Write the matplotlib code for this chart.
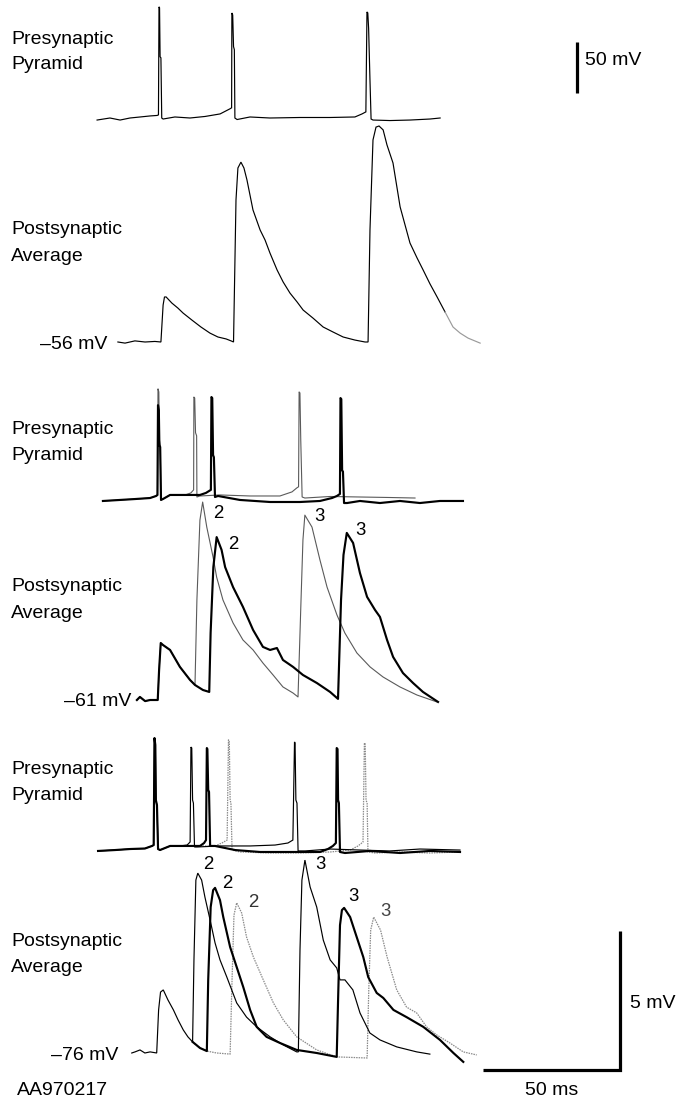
import numpy as np
import matplotlib
matplotlib.use("Agg")
import matplotlib.pyplot as plt

plt.rcParams['font.family'] = ['Liberation Sans', 'DejaVu Sans']

# ------------------------------------------------------------------
# DATA  (time in ms from first presynaptic spike, voltage in mV)
# presynaptic traces: mV relative to resting level
# ------------------------------------------------------------------
# ---- Panel 1 ----
p1_pre_t = [-22.6, -17.9, -14.2, -10.6, -6.9, -3.3, -0.7, -0.2, 0.0, 0.2, 0.4, 0.7, 1.0, 1.5,
            5.8, 11.3, 16.8, 22.3, 25.9, 26.5, 26.6, 26.9, 27.2, 27.5, 27.7, 28.5, 33.2, 40.5,
            51.5, 62.4, 71.5, 74.1, 75.5, 75.9, 76.2, 76.5, 77.0, 77.4, 78.1, 84.3, 91.6, 98.9, 102.6]
p1_pre_v = [-2, 0, -2, 0, 1, 2, 2.5, 3, 109, 108, 60, 59, 0, -1,
            1, 0, 1.5, 4, 9, 10, 103, 101, 70, 67, 0, -1.5, 1, 0,
            0.5, 0.5, 1, 4, 6, 104, 103, 88, 37, -1, -2, -2.5, -2, -1, 0]

p1_post_t = [-15.0, -12.4, -8.8, -5.1, -1.5, 0.7, 1.5, 2.0, 2.6, 4.7, 6.9, 8.8, 12.0, 15.3, 18.6,
             21.5, 24.5, 26.3, 27.2, 28.1, 28.8, 29.9, 31.0, 32.1, 34.3, 36.9, 38.7, 40.5, 43.1,
             45.3, 47.8, 50.4, 52.6, 56.2, 59.9, 63.5, 67.2, 71.5, 75.2, 76.3, 77.0, 78.1, 79.2,
             80.3, 81.8, 83.2, 85.4, 88.0, 89.8, 91.6, 94.2, 96.4, 98.9, 101.5, 104.4, 107.3,
             109.9, 112.8, 117.2]
p1_post_v = [-56.00, -56.04, -55.96, -56.00, -55.98, -56.00, -54.67, -54.38, -54.38, -54.60, -54.78,
             -54.96, -55.21, -55.46, -55.68, -55.82, -55.89, -55.96, -56.00, -50.89, -49.74, -49.53,
             -49.74, -50.17, -51.25, -51.97, -52.33, -52.80, -53.41, -53.84, -54.24, -54.56, -54.85,
             -55.14, -55.46, -55.64, -55.82, -55.93, -56.00, -56.00, -51.97, -48.73, -48.27, -48.23,
             -48.37, -48.91, -49.56, -51.14, -51.79, -52.44, -52.98, -53.41, -53.91, -54.38, -54.92,
             -55.46, -55.68, -55.86, -56.04]

# ---- Panel 2 ----
p2_pre_thin_t = [-20.1, -13.9, -8.4, -2.9, -0.7, -0.2, 0.0, 0.3, 0.5, 0.8, 1.1, 1.8, 4.4, 9.9, 12.0,
                 13.0, 13.1, 13.4, 13.7, 14.1, 14.2, 15.3, 22.6, 33.6, 44.5, 48.9, 50.7, 51.3, 51.5,
                 51.8, 52.1, 52.6, 53.6, 62.8, 73.7, 84.7, 93.8]
p2_pre_thin_v = [-3.9, -2.9, -2.0, -1.0, 1.0, 2, 106, 103, 56, 51, -2.9, -2, 2, 2, 4,
                 7, 98, 97, 63, 60, 0, 1, 2, 1, 1, 5, 9, 10, 103,
                 102, 56, 0, -1, 0.5, 0, -0.5, -1]
p2_pre_thick_t = [-20.1, -13.9, -8.4, -2.9, -0.7, -0.2, 0.0, 0.3, 0.5, 0.8, 1.1, 1.8, 4.4, 9.9, 15.3,
                  17.5, 19.3, 19.5, 19.8, 20.1, 20.4, 20.8, 21.9, 29.9, 40.9, 51.8, 59.1, 63.5, 65.3,
                  66.4, 66.6, 66.9, 67.2, 67.5, 67.9, 69.0, 73.7, 81.0, 88.3, 95.6, 102.9, 111.3]
p2_pre_thick_v = [-3.9, -2.9, -2.0, -1.0, 1.0, 2, 90, 85, 51, 49, -2.9, -2, 2, 2, 2,
                  4, 7, 98, 97, 41, 39, 0, 1, -2.9, -4.9, -4.9, -3.9, -1, 1,
                  3, 97, 96, 26, 25, -5.9, -5.9, -3.9, -5.9, -3.9, -5.9, -3.9, -3.9]

p2_post_thin_t = [-7.7, -6.6, -4.7, -2.9, -0.1, 0.4, 1.0, 1.8, 4.4, 8.0, 11.7, 13.5, 14.2, 15.3, 16.3,
                  17.8, 20.1, 21.4, 23.7, 27.4, 31.0, 34.7, 38.3, 42.0, 45.6, 49.3, 51.1, 52.2, 52.9,
                  53.6, 56.2, 59.1, 61.7, 65.3, 68.2, 72.6, 77.4, 82.1, 88.3, 94.5, 101.8]
p2_post_thin_v = [-61.00, -60.89, -61.04, -61.00, -61.00, -59.92, -58.95, -59.02, -59.20, -59.81,
                  -60.28, -60.46, -57.40, -54.53, -53.88, -54.78, -55.86, -56.58, -57.40, -58.23,
                  -58.84, -59.20, -59.67, -60.10, -60.53, -60.75, -60.89, -57.40, -55.24, -54.35,
                  -54.78, -55.96, -56.94, -57.94, -58.59, -59.31, -59.81, -60.17, -60.53, -60.82, -61.07]
p2_post_thick_t = [-7.7, -6.6, -4.7, -2.9, -0.1, 0.4, 1.0, 1.8, 4.4, 8.0, 11.7, 13.5, 16.4, 18.7, 19.2,
                   20.2, 21.4, 23.2, 24.5, 27.4, 31.0, 34.7, 38.3, 40.9, 43.4, 45.6, 49.3, 52.9, 58.0,
                   62.8, 65.7, 66.8, 67.7, 68.9, 71.2, 73.7, 76.3, 79.2, 81.0, 83.6, 85.8, 89.4, 93.1,
                   96.7, 102.2]
p2_post_thick_v = [-61.00, -60.89, -61.04, -61.00, -61.00, -59.92, -58.95, -59.02, -59.20, -59.81,
                   -60.28, -60.46, -60.64, -60.71, -58.59, -56.22, -55.14, -55.60, -56.22, -56.94,
                   -57.65, -58.48, -59.09, -59.20, -59.13, -59.56, -59.81, -60.10, -60.39, -60.71,
                   -60.96, -57.40, -55.78, -54.99, -55.35, -56.43, -57.29, -57.76, -58.01, -58.84,
                   -59.45, -60.03, -60.39, -60.71, -61.07]

# ---- Panel 3 ----
p3_pre_shared_t = [-20.6, -14.4, -8.9, -3.5, -0.9, -0.3, 0.0, 0.3, 0.5, 0.9, 1.3, 2.0, 5.7, 9.3]
p3_pre_shared_v = [-2.9, -2.0, -1.0, -0.5, 2.0, 2.9, 107.8, 101, 47, 42, -1.0, -2.0, 2, 2]
p3_pre_thin_t = [11.9, 13.0, 13.3, 13.6, 13.9, 14.2, 14.6, 15.5, 23.9, 34.9, 44.0, 48.7, 50.5, 51.1,
                 51.3, 51.6, 52.0, 52.4, 54.9, 64.1, 75.0, 85.8, 96.9, 111.5]
p3_pre_thin_v = [2.9, 5.9, 99, 98, 47, 44, 1, 1, 2, 2, 2.9, 4.9, 7.8, 104,
                 103, 47, 44, -2.9, -2.9, -1, -2, -2.9, -1, -2]
p3_pre_thick_t = [16.6, 18.1, 18.8, 19.1, 19.3, 19.6, 19.9, 20.3, 22.1, 29.4, 38.5, 49.5, 60.4, 63.3,
                  65.1, 66.2, 66.5, 66.8, 67.0, 67.3, 67.7, 69.5, 78.6, 89.6, 100.5, 111.5]
p3_pre_thick_v = [2, 4.9, 7.8, 98, 97, 57, 55, 2, 2, -2, -3.9, -3.9, -3.9, -1,
                  2, 4.9, 98, 97, 47, 44, -3.9, -4.9, -2.9, -4.9, -2.9, -3.9]
p3_pre_dot_t = [16.6, 22.1, 24.6, 26.5, 27.0, 27.3, 27.6, 27.9, 28.3, 31.2, 42.2, 53.1, 64.1, 71.4,
                74.3, 76.1, 76.6, 76.9, 77.2, 77.6, 77.9, 80.5, 89.6, 100.5, 111.5]
p3_pre_dot_v = [2, 2, 4.9, 7.8, 106, 104, 47, 44, -2, -3.9, -4.9, -4.9, -3.9, -2,
                2, 5.9, 103, 102, 47, 44, -3.9, -4.9, -3.9, -4.9, -3.9]

p3_post_shared_t = [-8.3, -7.1, -5.3, -3.5, -1.6, 0.8, 1.5, 2.2, 3.2, 4.9, 6.9, 8.6, 10.5, 12.2, 13.9]
p3_post_shared_v = [-76.00, -75.96, -75.89, -76.00, -75.96, -76.00, -74.45, -73.81, -73.73, -74.09,
                    -74.45, -74.81, -75.17, -75.42, -75.60]
p3_post_thin_t = [14.4, 15.1, 15.8, 17.2, 18.4, 20.3, 22.1, 23.9, 26.4, 30.0, 33.6, 37.3, 42.2, 47.0,
                  51.9, 52.5, 53.1, 53.8, 54.9, 56.8, 59.2, 61.6, 64.1, 66.5, 67.7, 69.5, 72.4, 75.0,
                  76.8, 78.6, 82.3, 88.4, 95.7, 100.5]
p3_post_thin_v = [-72.65, -69.78, -69.53, -69.78, -70.39, -71.22, -72.04, -72.65, -73.27, -74.20,
                  -74.71, -75.06, -75.42, -75.71, -75.96, -75.96, -72.29, -69.78, -69.06, -70.03,
                  -70.75, -71.94, -72.65, -72.94, -73.37, -73.37, -73.73, -74.56, -74.92, -75.28,
                  -75.53, -75.78, -75.96, -76.04]
p3_post_thick_t = [16.6, 19.1, 19.6, 20.5, 21.4, 22.1, 23.9, 25.1, 27.6, 30.0, 32.4, 34.9, 37.3, 40.9,
                   45.8, 51.9, 59.2, 66.5, 67.0, 67.7, 68.4, 69.2, 71.4, 73.8, 76.2, 78.0, 81.1, 83.5,
                   87.2, 92.0, 98.1, 104.2, 109.1, 112.7]
p3_post_thick_v = [-75.82, -75.93, -73.37, -70.75, -70.14, -70.06, -70.50, -71.11, -72.19, -72.91,
                   -73.63, -74.45, -75.06, -75.42, -75.64, -75.89, -76.00, -76.14, -74.09, -71.40,
                   -70.86, -70.78, -71.11, -71.83, -72.55, -73.27, -73.84, -74.02, -74.45, -74.71,
                   -75.06, -75.53, -76.00, -76.32]
p3_post_dot_t = [16.6, 19.1, 22.7, 27.6, 28.3, 29.0, 30.0, 31.8, 33.6, 36.1, 39.7, 43.4, 47.0, 51.9,
                 59.2, 66.5, 77.6, 78.2, 78.9, 80.0, 82.5, 84.9, 88.4, 92.0, 95.7, 99.3, 103.0, 107.8,
                 112.7, 117.6]
p3_post_dot_v = [-75.82, -75.93, -76.00, -76.04, -73.37, -71.04, -70.60, -70.96, -71.83, -72.55,
                 -73.37, -74.20, -74.81, -75.42, -75.89, -76.14, -76.18, -73.73, -71.58, -71.11,
                 -71.58, -72.55, -73.73, -74.35, -74.56, -75.06, -75.35, -75.64, -75.96, -76.07]

resting_labels = ["\u201356 mV", "\u201361 mV", "\u201376 mV"]
resting_mv = [-56, -61, -76]
peak_labels_p2 = ["2", "2", "3", "3"]
peak_labels_p3 = ["2", "2", "2", "3", "3", "3"]
scale_ms = 50
scale_post_mv = 5
scale_pre_mv = 50

# ------------------------------------------------------------------
# LAYOUT (pixels)
# ------------------------------------------------------------------
W, H = 677, 1097
PX_PER_MS = 2.74
PX_PER_MV_POST = 27.8
PX_PER_MV_PRE = 1.02
panel_x0 = [159, 158, 154.5]        # pixel x of t = 0
panel_pre_y = [118, 497, 848]       # pixel y of presynaptic rest
panel_post_y = [342, 700, 1053]     # pixel y of postsynaptic rest

fig = plt.figure(figsize=(W / 100, H / 100), dpi=100)
fig.patch.set_facecolor('white')


def make_axes(x0, ybase, vbase, ppmv):
    ax = fig.add_axes([0, 0, 1, 1])
    ax.set_xlim((0 - x0) / PX_PER_MS, (W - x0) / PX_PER_MS)
    ax.set_ylim(vbase + (ybase - H) / ppmv, vbase + ybase / ppmv)
    ax.axis('off')
    ax.patch.set_alpha(0)
    return ax


pre_axes, post_axes = [], []
for i in range(3):
    pre_axes.append(make_axes(panel_x0[i], panel_pre_y[i], 0.0, PX_PER_MV_PRE))
    post_axes.append(make_axes(panel_x0[i], panel_post_y[i], resting_mv[i], PX_PER_MV_POST))

THIN = dict(color='black', lw=0.85, solid_joinstyle='miter')
GRAY = dict(color='#5a5a5a', lw=0.8)
THICK = dict(color='black', lw=1.55)
DOT = dict(color='#8a8a8a', lw=0.9, linestyle=(0, (1.2, 0.8)))

# Panel 1
pre_axes[0].plot(p1_pre_t, p1_pre_v, **THIN)
t1 = np.array(p1_post_t)
v1 = np.array(p1_post_v)
fade = 104.0
k = np.searchsorted(t1, fade)
post_axes[0].plot(t1[:k + 1], v1[:k + 1], **THIN)
post_axes[0].plot(t1[k:], v1[k:], color='#9a9a9a', lw=0.85)

# Panel 2
pre_axes[1].plot(p2_pre_thin_t, p2_pre_thin_v, **GRAY)
pre_axes[1].plot(p2_pre_thick_t, p2_pre_thick_v, **THICK)
post_axes[1].plot(p2_post_thin_t, p2_post_thin_v, **GRAY)
post_axes[1].plot(p2_post_thick_t, p2_post_thick_v, **THICK)

# Panel 3
pre_axes[2].plot([p3_pre_shared_t[-1]] + p3_pre_dot_t, [p3_pre_shared_v[-1]] + p3_pre_dot_v, **DOT)
pre_axes[2].plot(p3_pre_shared_t + p3_pre_thin_t, p3_pre_shared_v + p3_pre_thin_v, **THIN)
pre_axes[2].plot(p3_pre_shared_t + p3_pre_thick_t, p3_pre_shared_v + p3_pre_thick_v, **THICK)
post_axes[2].plot([p3_post_shared_t[-1]] + p3_post_dot_t, [p3_post_shared_v[-1]] + p3_post_dot_v, **DOT)
post_axes[2].plot(p3_post_shared_t + p3_post_thin_t, p3_post_shared_v + p3_post_thin_v, **THIN)
post_axes[2].plot([p3_post_shared_t[-1]] + p3_post_thick_t, [p3_post_shared_v[-1]] + p3_post_thick_v, **THICK)

# Scale bars
BAR = dict(color='black', lw=2.3, solid_capstyle='butt')
bar_pre_t = (577 - panel_x0[0]) / PX_PER_MS
bar_pre_v0 = (panel_pre_y[0] - 93) / PX_PER_MV_PRE
pre_axes[0].plot([bar_pre_t, bar_pre_t], [bar_pre_v0, bar_pre_v0 + scale_pre_mv], **BAR)

bar_t1 = (620 - panel_x0[2]) / PX_PER_MS
bar_v0 = resting_mv[2] + (panel_post_y[2] - 1070) / PX_PER_MV_POST
post_axes[2].plot([bar_t1 - scale_ms, bar_t1, bar_t1],
                  [bar_v0, bar_v0, bar_v0 + scale_post_mv], color='black', lw=2.3,
                  solid_joinstyle='miter', solid_capstyle='butt')

# ------------------------------------------------------------------
# TEXT
# ------------------------------------------------------------------
FS = 14.0


def ftext(x, y, s, ha='left', size=FS, color='black'):
    fig.text(x / W, 1 - y / H, s, ha=ha, va='baseline', fontsize=size, color=color)


pre_label_base = [43.5, 434, 774]
post_label_base = [234.5, 591, 946]
for i in range(3):
    ftext(11, pre_label_base[i], "Presynaptic")
    ftext(11, pre_label_base[i] + 25.5, "Pyramid")
    ftext(11, post_label_base[i], "Postsynaptic")
    ftext(11, post_label_base[i] + 26.5, "Average")

rest_label_right = [107, 131, 118]
for i in range(3):
    ftext(rest_label_right[i], panel_post_y[i] + 6.5, resting_labels[i], ha='right')

p2_label_xy = [(218, 518), (233, 549), (319, 521), (360, 535)]
for (x, y), s in zip(p2_label_xy, peak_labels_p2):
    ftext(x, y, s, ha='center', size=13.4)
p3_label_xy = [(208, 869), (227, 888), (253, 907), (320, 869), (353, 901), (385, 916)]
p3_label_col = ['black', 'black', '#333333', 'black', 'black', '#444444']
for (x, y), s, c in zip(p3_label_xy, peak_labels_p3, p3_label_col):
    ftext(x, y, s, ha='center', size=13.4, color=c)

ftext(585, 65, f"{scale_pre_mv} mV")
ftext(630, 1008, f"{scale_post_mv} mV")
ftext(552, 1095, f"{scale_ms} ms", ha='center')
ftext(17, 1095, "AA970217")

fig.savefig("out.png", dpi=100, facecolor='white')
